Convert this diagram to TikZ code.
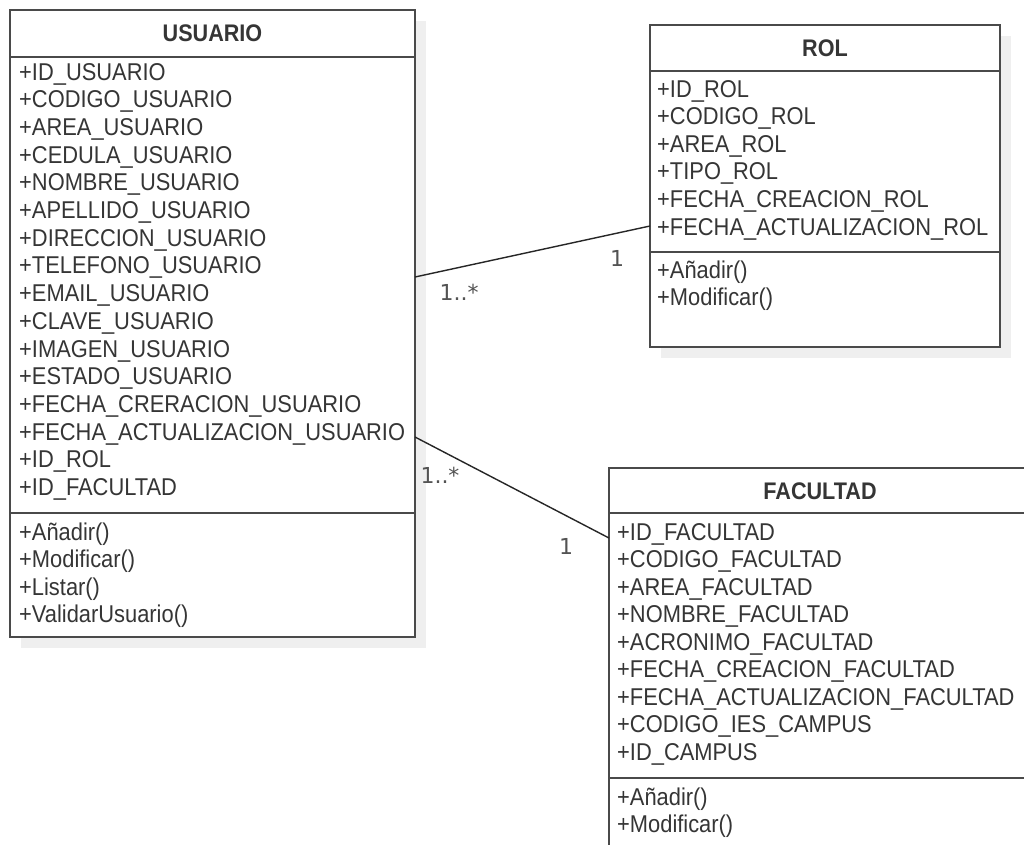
\documentclass[tikz,border=0pt]{standalone}
\usepackage{fontspec}
\setmainfont{Liberation Sans}[FakeStretch=0.9]
\newfontfamily\labelfont{DejaVu Sans}
\definecolor{txt}{HTML}{353535}
\definecolor{bord}{HTML}{4A4A4A}
\definecolor{shad}{HTML}{EFEFEF}
\tikzset{
 classbox/.style={draw=bord, line width=1.5pt, fill=white, inner sep=0, outer sep=0, anchor=north west},
 shadowbox/.style={fill=shad, draw=none, inner sep=0, outer sep=0, anchor=north west},
 classtitle/.style={font=\fontsize{24}{26}\selectfont\bfseries, text=txt, inner sep=0},
 member/.style={font=\fontsize{24.3}{26}\selectfont, text=txt, anchor=west, inner sep=0},
 mult/.style={font=\labelfont\fontsize{22}{24}\selectfont, text=txt!85, inner sep=0},
 divider/.style={draw=bord, line width=1.5pt},
 assoc/.style={draw=black!85, line width=1.4pt},
}
\begin{document}
\begin{tikzpicture}[x=1pt,y=-1pt]
\useasboundingbox (0,0) rectangle (1024,844);
\clip (0,0) rectangle (1024,844);
\fill[white] (0,0) rectangle (1024,844);

% ---------- USUARIO ----------
\node[shadowbox, minimum width=405, minimum height=627] (usuarioShadow) at (21,21) {};
\node[classbox, minimum width=405, minimum height=627] (usuario) at (10,10) {};
\node[classtitle] (usuarioTitle) at (212.5,33) {USUARIO};
\draw[divider] (10,57) -- (415,57);
\draw[divider] (10,513) -- (415,513);
\foreach \t [count=\i from 0] in {+ID\_USUARIO,+CODIGO\_USUARIO,+AREA\_USUARIO,+CEDULA\_USUARIO,+NOMBRE\_USUARIO,+APELLIDO\_USUARIO,+DIRECCION\_USUARIO,+TELEFONO\_USUARIO,+EMAIL\_USUARIO,+CLAVE\_USUARIO,+IMAGEN\_USUARIO,+ESTADO\_USUARIO,+FECHA\_CRERACION\_USUARIO,+FECHA\_ACTUALIZACION\_USUARIO,+ID\_ROL,+ID\_FACULTAD}
  \node[member] (ua\i) at (19,74+27.7*\i) {\t};
\foreach \t [count=\i from 0] in {+Añadir(),+Modificar(),+Listar(),+ValidarUsuario()}
  \node[member] (um\i) at (19,534+27.5*\i) {\t};

% ---------- ROL ----------
\node[shadowbox, minimum width=350, minimum height=322] (rolShadow) at (661,36) {};
\node[classbox, minimum width=350, minimum height=322] (rol) at (650,25) {};
\node[classtitle] (rolTitle) at (825,48) {ROL};
\draw[divider] (650,71) -- (1000,71);
\draw[divider] (650,252) -- (1000,252);
\foreach \t [count=\i from 0] in {+ID\_ROL,+CODIGO\_ROL,+AREA\_ROL,+TIPO\_ROL,+FECHA\_CREACION\_ROL,+FECHA\_ACTUALIZACION\_ROL}
  \node[member] (ra\i) at (657,91+27.6*\i) {\t};
\foreach \t [count=\i from 0] in {+Añadir(),+Modificar()}
  \node[member] (rm\i) at (657,272+27*\i) {\t};

% ---------- FACULTAD ----------
\node[shadowbox, minimum width=422, minimum height=420] (facShadow) at (620,479) {};
\node[classbox, minimum width=422, minimum height=420] (facultad) at (609,468) {};
\node[classtitle] (facTitle) at (820,491) {FACULTAD};
\draw[divider] (609,513) -- (1031,513);
\draw[divider] (609,778) -- (1031,778);
\foreach \t [count=\i from 0] in {+ID\_FACULTAD,+CODIGO\_FACULTAD,+AREA\_FACULTAD,+NOMBRE\_FACULTAD,+ACRONIMO\_FACULTAD,+FECHA\_CREACION\_FACULTAD,+FECHA\_ACTUALIZACION\_FACULTAD,+CODIGO\_IES\_CAMPUS,+ID\_CAMPUS}
  \node[member] (fa\i) at (617,534+27.5*\i) {\t};
\foreach \t [count=\i from 0] in {+Añadir(),+Modificar()}
  \node[member] (fm\i) at (617,799+27*\i) {\t};

% ---------- associations ----------
\coordinate (uToRol) at (415,277);
\coordinate (rolToU) at (650,226);
\coordinate (uToFac) at (415,437);
\coordinate (facToU) at (609,538);
\draw[assoc] (uToRol) -- (rolToU);
\draw[assoc] (uToFac) -- (facToU);
\node[mult] (m1) at (459,292) {1..*};
\node[mult] (m2) at (617,258) {1};
\node[mult] (m3) at (440,475) {1..*};
\node[mult] (m4) at (566,546) {1};
\end{tikzpicture}
\end{document}
